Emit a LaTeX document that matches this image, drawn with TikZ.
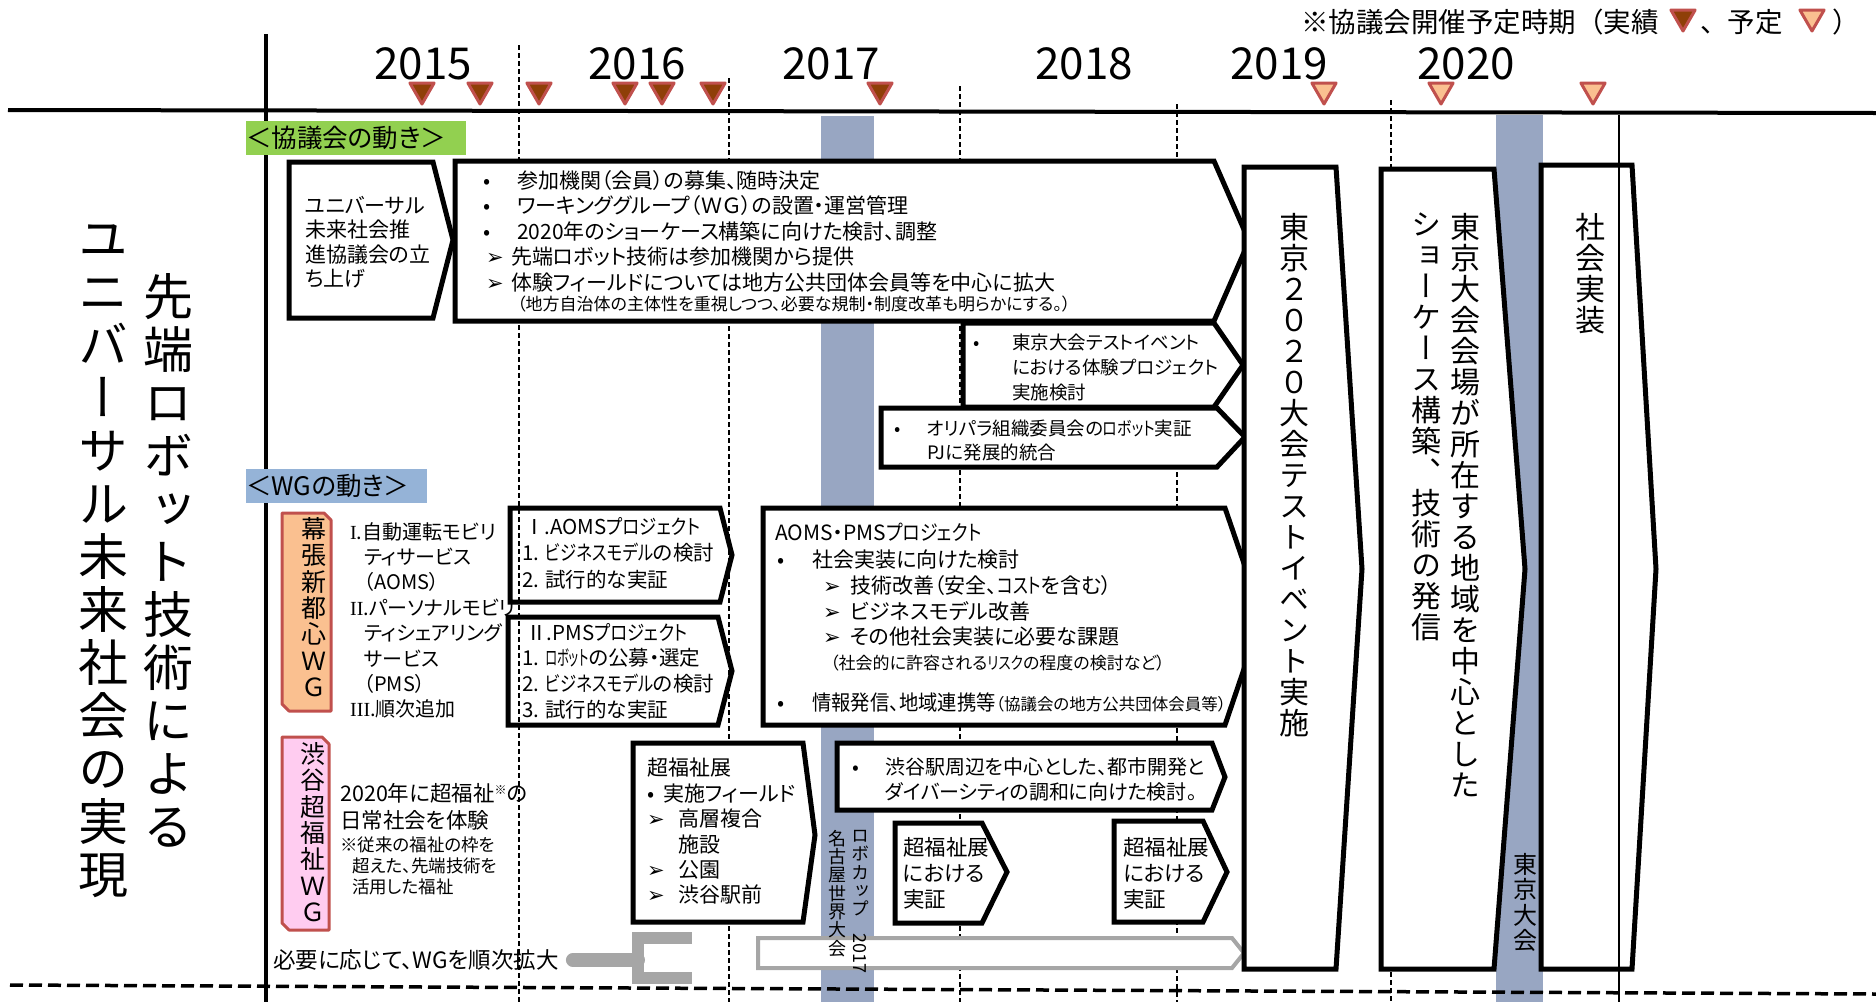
\documentclass[tikz,border=0pt]{standalone}
\usepackage{fontspec}
\usepackage{graphicx}
\setmainfont{Noto Sans CJK JP}[RawFeature=+palt]
\newfontfamily\widefont{Noto Sans CJK JP}
\newfontfamily\vfont{Noto Sans CJK JP}[RawFeature=+vert]
\newfontfamily\romfont{Liberation Serif}
\newfontfamily\symfont{DejaVu Sans}
\usetikzlibrary{shapes.geometric}
\definecolor{councilgreen}{RGB}{146,208,80}
\definecolor{wgblue}{RGB}{149,179,215}
\definecolor{barblue}{RGB}{152,166,194}
\definecolor{markred}{RGB}{192,80,77}
\definecolor{markbrown}{RGB}{143,63,8}
\definecolor{peach}{RGB}{250,192,144}
\definecolor{pinkfill}{RGB}{255,204,240}
\definecolor{palegray}{RGB}{166,166,166}
% one character per line, for the vertical texts
\ExplSyntaxOn
\NewDocumentCommand \vstack { m }
  {
    \seq_clear:N \l_tmpa_seq
    \tl_map_inline:nn { #1 } { \seq_put_right:Nn \l_tmpa_seq { ##1 } }
    \seq_use:Nn \l_tmpa_seq { \\ }
  }
\ExplSyntaxOff
\newcommand\squeeze[2][0.72]{\scalebox{#1}[1]{#2}}
\newcommand\dotitem[2][34pt]{\makebox[#1][l]{•}#2}
\newcommand\arrowitem[2][26pt]{\makebox[#1][l]{\symfont ➢}#2}
\tikzset{
  every node/.style={inner sep=0pt},
  frame/.style={line width=4pt,draw=black},
  yearsep/.style={line width=1.4pt,draw=black,dash pattern=on 5pt off 3pt},
  eventbar/.style={fill=barblue},
  plate/.style={draw=black,line width=5pt,fill=white},
  openplate/.style={draw=black,line width=5pt},
  paleplate/.style={draw=palegray,line width=4pt,fill=white},
  wgtag/.style={draw=markred,line width=3pt,line join=round},
  fork/.style={draw=palegray,line width=14pt},
  sectionhead/.style={anchor=north west,minimum height=34pt,align=left,
    font=\fontsize{25.5}{30}\selectfont},
  year/.style={font=\fontsize{44}{44}\selectfont},
  legend/.style={font=\widefont\fontsize{27.5}{30}\selectfont},
  heldmark/.style={regular polygon,regular polygon sides=3,shape border rotate=180,
    minimum size=28pt,draw=markred,line width=3pt,line join=round,fill=markbrown},
  plannedmark/.style={heldmark,fill=peach},
  body/.style={anchor=north west,align=left,font=\fontsize{21}{25.5}\selectfont},
  note/.style={anchor=north west,align=left,font=\fontsize{17}{21}\selectfont},
  vcol/.style={anchor=north,align=center,font=\vfont\fontsize{30}{31}\selectfont},
  titlecol/.style={anchor=north,align=center,font=\vfont\fontsize{50}{53}\selectfont},
  wgcol/.style={anchor=north,align=center,font=\vfont\fontsize{25}{26.4}\selectfont}
}
\begin{document}
\begin{tikzpicture}[x=1pt,y=-1pt]
\useasboundingbox (0,0) rectangle (1876,1002);

% event bars
\fill[eventbar] (821,116) rectangle (874,1002);
\fill[eventbar] (1496,115) rectangle (1543,1002);

% year separators and frame
\draw[yearsep] (519,45) -- (519,1002);
\draw[yearsep] (729,78) -- (729,1002);
\draw[yearsep] (960,86) -- (960,1002);
\draw[yearsep] (1177,104) -- (1177,1002);
\draw[yearsep] (1391,100) -- (1391,1002);
\draw[frame] (266,34) -- (266,1002);
\draw[frame] (8,110) -- (1876,113);
\draw[frame,line width=3.5pt,dash pattern=on 13pt off 6pt] (10,985) -- (1876,994);

\node[sectionhead,fill=councilgreen,text width=220pt] (councilhead) at (246,121) {＜協議会の動き＞};
\node[sectionhead,fill=wgblue,text width=181pt] (wghead) at (246,469) {＜WGの動き＞};

% council plates
\draw[plate] (289,162) -- (433,162) -- (453,240) -- (433,318) -- (289,318) -- cycle;
\draw[plate] (455,161) -- (1214,161) -- (1249,241) -- (1214,321) -- (455,321) -- cycle;
\draw[plate] (963,323) -- (1214,323) -- (1243,365) -- (1214,407) -- (963,407) -- cycle;
\draw[plate] (881,408) -- (1217,408) -- (1245,437) -- (1217,467) -- (881,467) -- cycle;

% WG plates
\draw[plate] (763,508) -- (1225,508) -- (1262,616) -- (1225,725) -- (763,725) -- cycle;
\draw[openplate] (510,508) -- (720,508) -- (732,555) -- (720,602) -- (510,602) -- cycle;
\draw[openplate] (508,617) -- (718,617) -- (732,671) -- (718,725) -- (508,725) -- cycle;
\draw[plate] (633,743) -- (803,743) -- (815,835) -- (803,922) -- (633,922) -- cycle;
\draw[plate] (837,743) -- (1212,743) -- (1225,777) -- (1212,810) -- (837,810) -- cycle;
\draw[plate] (895,823) -- (982,823) -- (1007,872) -- (982,923) -- (895,923) -- cycle;
\draw[plate] (1114,821) -- (1203,821) -- (1227,872) -- (1203,922) -- (1114,922) -- cycle;
\draw[paleplate] (758,938) -- (1232,938) -- (1244,953) -- (1232,968) -- (758,968) -- cycle;

% milestone plates
\draw[plate] (1244,167) -- (1336,167) -- (1362,569) -- (1336,969) -- (1244,969) -- cycle;
\draw[plate] (1381,169) -- (1494,169) -- (1525,569) -- (1494,969) -- (1381,969) -- cycle;
\draw[plate] (1541,165) -- (1632,165) -- (1656,569) -- (1632,969) -- (1541,969) -- cycle;
\draw[line width=2.5pt] (1619,115) -- (1619,1002);

% WG tags
\draw[wgtag,fill=peach] (282,513) -- (324,513) -- (331,520) -- (331,711) -- (289,711) -- (282,704) -- cycle;
\draw[wgtag,fill=pinkfill] (282,737) -- (322,737) -- (329,744) -- (329,930) -- (289,930) -- (282,923) -- cycle;
\node[wgcol] (makuhari) at (314,517) {\vstack{幕張新都心ＷＧ}};
\node[wgcol] (shibuya) at (313,742) {\vstack{渋谷超福祉ＷＧ}};

% title
\node[titlecol] (titleright) at (168,273) {\vstack{先端ロボット技術による}};
\node[titlecol] (titleleft) at (103,224) {\vstack{ユニバーサル未来社会の実現}};

% council texts
\node[body,font=\fontsize{21}{24.5}\selectfont] (launch) at (305,196) {ユニバーサル\\未来社会推\\進協議会の立\\ち上げ};
\node[body] (roles) at (483,170) {\dotitem{参加機関（会員）の募集、随時決定}\\
  \dotitem{ワーキンググループ（ＷＧ）の設置・運営管理}\\
  \dotitem{2020年のショーケース構築に向けた検討、調整}\\
  \hspace*{3pt}\arrowitem[25pt]{先端ロボット技術は参加機関から提供}\\
  \hspace*{3pt}\arrowitem[25pt]{体験フィールドについては地方公共団体会員等を中心に拡大}};
\node[note] (rolesnote) at (517,296) {（地方自治体の主体性を重視しつつ、必要な規制・制度改革も明らかにする。）};
\node[body,font=\fontsize{18.5}{25}\selectfont] (testplan) at (973,334) {\dotitem[39pt]{東京大会テストイベント}\\
  \hspace*{39pt}における体験プロジェクト\\\hspace*{39pt}実施検討};
\node[body,font=\fontsize{18.5}{24}\selectfont] (merge) at (894,420) {\dotitem[33pt]{オリパラ組織委員会の\squeeze[0.8]{ロボット}実証}\\\hspace*{33pt}PJに発展的統合};

% WG texts
\node[body,font=\fontsize{20}{25.4}\selectfont] (makuhariplan) at (350,522) {{\romfont I}.自動運転モビリ\\
  \hspace*{14pt}ティサービス\\\hspace*{14pt}（AOMS）\\
  {\romfont II}.パーソナルモビリ\\\hspace*{14pt}ティシェアリング\\
  \hspace*{14pt}サービス\\\hspace*{14pt}（PMS）\\{\romfont III}.順次追加};
\node[body,font=\fontsize{20.5}{26.5}\selectfont] (aoms) at (522,517) {\hspace*{2pt}Ⅰ.AOMS\squeeze[0.85]{プロジェクト}\\
  1. \squeeze[0.8]{ビジネスモデル}の検討\\2. 試行的な実証};
\node[body,font=\fontsize{20.5}{25.7}\selectfont] (pms) at (522,623) {\hspace*{4pt}Ⅱ.PMS\squeeze[0.85]{プロジェクト}\\
  1. \squeeze[0.6]{ロボット}の公募・選定\\2. \squeeze[0.8]{ビジネスモデル}の検討\\3. 試行的な実証};
\node[body] (socialhead) at (775,523) {AOMS・PMS\squeeze[0.85]{プロジェクト}};
\node[body,font=\fontsize{21}{25.7}\selectfont] (socialitems) at (777,550) {\dotitem[35pt]{社会実装に向けた検討}\\
  \hspace*{46pt}\arrowitem[27pt]{技術改善（安全、\squeeze[0.8]{コスト}を含む）}\\
  \hspace*{46pt}\arrowitem[27pt]{ビジネスモデル改善}\\
  \hspace*{46pt}\arrowitem[27pt]{その他社会実装に必要な課題}};
\node[note,font=\fontsize{17}{20}\selectfont] (risknote) at (830,655) {（社会的に許容される\squeeze[0.8]{リスク}の程度の検討など）};
\node[body] (outreach) at (777,693) {\dotitem[35pt]{\squeeze[0.92]{情報発信、地域連携等}%
  {\fontsize{16.5}{20}\selectfont（協議会の地方公共団体会員等）}}};

% Shibuya texts
\node[body,font=\fontsize{21.5}{27}\selectfont] (dailylife) at (340,783) {2020年に超福祉{\fontsize{12}{12}\selectfont\raisebox{7pt}{※}}の\\日常社会を体験};
\node[note,font=\fontsize{17.5}{21}\selectfont] (fukushinote) at (340,837) {※従来の福祉の枠を\\\hspace*{12pt}超えた、先端技術を\\\hspace*{12pt}活用した福祉};
\node[body,font=\fontsize{21}{25.4}\selectfont] (fairhead) at (647,758) {超福祉展\\\dotitem[16pt]{実施フィールド}\\
  \arrowitem[31pt]{高層複合}\\\hspace*{31pt}施設\\\arrowitem[31pt]{公園}\\\arrowitem[31pt]{渋谷駅前}};
\node[body,font=\fontsize{20}{25}\selectfont] (urban) at (852,757) {\dotitem[33pt]{渋谷駅周辺を中心とした、都市開発と}\\
  \hspace*{33pt}ダイバーシティの調和に向けた検討。};
\node[body,font=\fontsize{21.5}{26}\selectfont] (fairtrial) at (903,837) {超福祉展\\における\\実証};
\node[body,font=\fontsize{21.5}{26}\selectfont] (fairtriallater) at (1123,837) {超福祉展\\における\\実証};

% expansion bracket
\node[body,anchor=west,font=\fontsize{22.5}{26}\selectfont] (expand) at (273,960) {必要に応じて、WGを順次拡大};
\coordinate (forkroot) at (638,960);
\draw[fork,line cap=round] ([xshift=14pt]expand.east) -- (forkroot);
\draw[fork,line width=12pt] (692,938) -- (638,938) -- (638,978) -- (692,978);

% milestone texts
\node[vcol] (testevent) at (1294,213) {\vstack{東京２０２０大会テストイベント実施}};
\node[vcol] (venue) at (1465,213) {\vstack{東京大会会場が所在する地域を中心とした}};
\node[vcol] (showcase) at (1426,213) {\vstack{ショーケース構築、技術の発信}};
\node[vcol] (deploy) at (1590,213) {\vstack{社会実装}};
\node[vcol,font=\vfont\fontsize{24}{25.5}\selectfont] (games) at (1525,853) {\vstack{東京大会}};
\node[vcol,font=\vfont\fontsize{18}{18.3}\selectfont] (robocup) at (860,830) {\vstack{ロボカップ{\rotatebox{-90}{2017}}}};
\node[vcol,font=\vfont\fontsize{18}{18.3}\selectfont] (nagoya) at (837,830) {\vstack{名古屋世界大会}};

% years and meeting marks
\node[year] (y2015) at (423,64) {2015};
\node[year] (y2016) at (637,64) {2016};
\node[year] (y2017) at (831,64) {2017};
\node[year] (y2018) at (1084,64) {2018};
\node[year] (y2019) at (1279,64) {2019};
\node[year] (y2020) at (1466,64) {2020};
\node[heldmark] (held1) at (422,90) {};
\node[heldmark] (held2) at (480,90) {};
\node[heldmark] (held3) at (539,90) {};
\node[heldmark] (held4) at (625,90) {};
\node[heldmark] (held5) at (662,90) {};
\node[heldmark] (held6) at (713,90) {};
\node[heldmark] (held7) at (880,90) {};
\node[plannedmark] (plan1) at (1324,90) {};
\node[plannedmark] (plan2) at (1441,90) {};
\node[plannedmark] (plan3) at (1593,90) {};

% legend
\node[legend,anchor=east] (legendtext) at (1659,22) {※協議会開催予定時期（実績};
\node[heldmark] (legendheld) at (1683,17) {};
\node[legend,anchor=west] (legendplan) at (1700,22) {、予定};
\node[plannedmark] (legendplanned) at (1812,17) {};
\node[legend,anchor=west] (legendclose) at (1832,22) {）};

\end{tikzpicture}
\end{document}
